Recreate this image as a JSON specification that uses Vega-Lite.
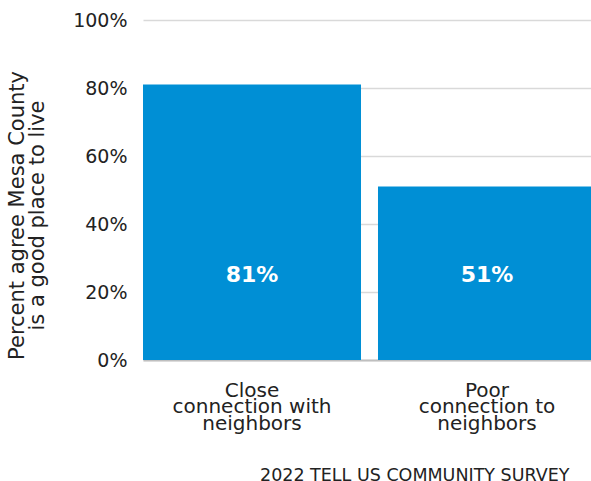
{
  "$schema": "https://vega.github.io/schema/vega-lite/v6.json",
  "autosize": {"type": "none"},
  "width": 453,
  "height": 340,
  "padding": {"left": 143, "top": 20, "right": 0, "bottom": 121},
  "background": "white",
  "config": {
    "font": "DejaVu Sans",
    "view": {"stroke": null}
  },
  "title": {
    "text": "2022 TELL US COMMUNITY SURVEY",
    "orient": "bottom",
    "anchor": "start",
    "frame": "group",
    "dx": 117,
    "offset": 34,
    "fontSize": 17.5,
    "fontWeight": "normal",
    "color": "#222222",
    "font": "DejaVu Sans"
  },
  "data": {
    "values": [
      {"group": "Close|connection with|neighbors", "pct": 0.81},
      {"group": "Poor|connection to|neighbors", "pct": 0.51}
    ]
  },
  "encoding": {
    "x": {
      "field": "group",
      "type": "nominal",
      "sort": null,
      "scale": {"paddingInner": 0.0723, "paddingOuter": 0},
      "axis": {
        "title": null,
        "labelAngle": 0,
        "labelExpr": "split(datum.label, '|')",
        "labelFontSize": 20,
        "labelLineHeight": 16.5,
        "labelColor": "#222222",
        "labelBaseline": "top",
        "labelPadding": 20,
        "labelOverlap": false,
        "ticks": false,
        "domainColor": "#bfbfbf",
        "domainWidth": 2,
        "grid": false
      }
    }
  },
  "layer": [
    {
      "mark": {"type": "bar", "color": "#008fd5"},
      "encoding": {
        "y": {
          "field": "pct",
          "type": "quantitative",
          "scale": {"domain": [0, 1], "nice": false},
          "axis": {
            "title": ["Percent agree  Mesa County", "is a good place to live"],
            "titleFontSize": 21,
            "titleFontWeight": "normal",
            "titleColor": "#222222",
            "titleAngle": -90,
            "titleAlign": "center",
            "titleBaseline": "top",
            "titleLineHeight": 20,
            "titleX": -137,
            "titleY": 195,
            "format": ".0%",
            "values": [0, 0.2, 0.4, 0.6, 0.8, 1],
            "labelOverlap": false,
            "labelFontSize": 19,
            "labelColor": "#222222",
            "labelPadding": 16,
            "ticks": false,
            "domain": false,
            "grid": true,
            "gridColor": "#d9d9d9",
            "gridWidth": 1.5
          }
        }
      }
    },
    {
      "mark": {"type": "text", "color": "white", "fontSize": 22, "fontWeight": "bold", "baseline": "middle"},
      "encoding": {
        "y": {"datum": 0.25, "type": "quantitative"},
        "text": {"field": "pct", "type": "quantitative", "format": ".0%"}
      }
    }
  ]
}
